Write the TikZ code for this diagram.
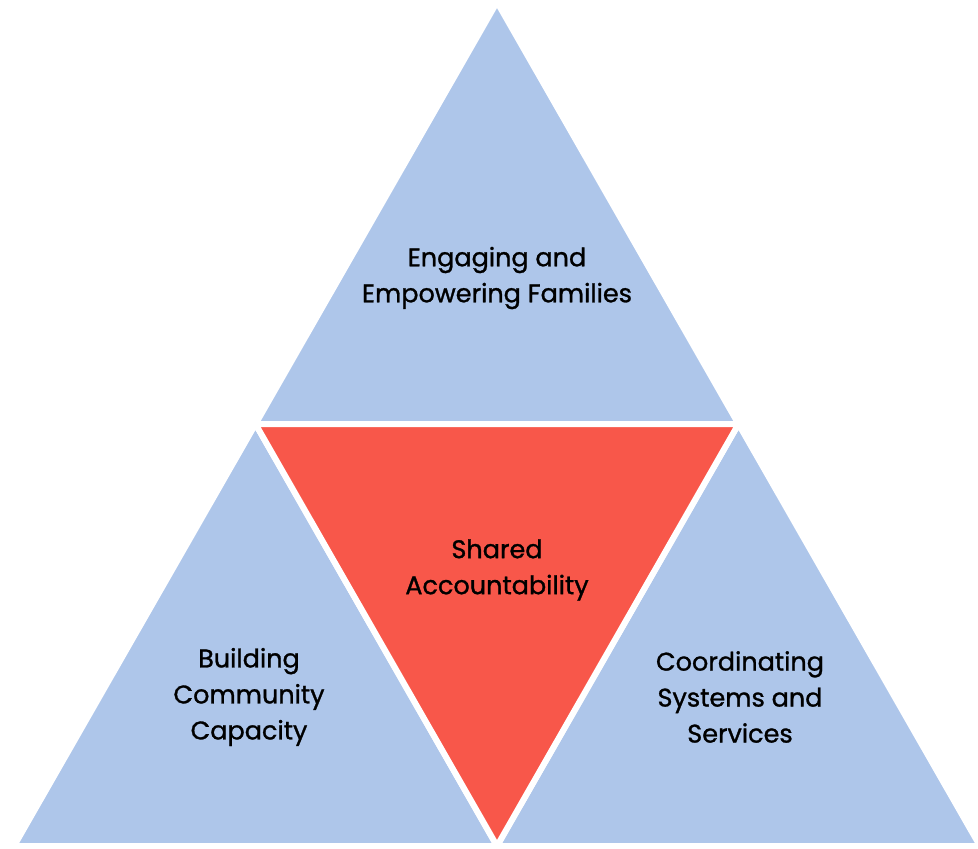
\documentclass[tikz,border=0pt]{standalone}
\usepackage{fontspec}
\setmainfont{Poppins}
\newfontfamily\labelfont{Poppins}[FakeBold=1.1]
\usetikzlibrary{calc}
\definecolor{sideblue}{HTML}{AEC6EA}
\definecolor{corered}{HTML}{F8574A}
\tikzset{
  part/.style={draw=white, line width=6pt, line join=miter},
  label/.style={align=center, font=\labelfont\fontsize{25.5}{36}\selectfont, text=black}
}
\begin{document}
\begin{tikzpicture}[x=1pt, y=-1pt]
\useasboundingbox (0,0) rectangle (978,849);
\coordinate (top) at (497,2);
\coordinate (bl) at (14,846);
\coordinate (br) at (980,846);
\coordinate (ml) at ($(top)!0.5!(bl)$);
\coordinate (mr) at ($(top)!0.5!(br)$);
\coordinate (mb) at ($(bl)!0.5!(br)$);

\fill[sideblue, part] (top)--(ml)--(mr)--cycle;
\fill[sideblue, part] (ml)--(bl)--(mb)--cycle;
\fill[sideblue, part] (mr)--(mb)--(br)--cycle;
\fill[corered, part] (ml)--(mr)--(mb)--cycle;

\node[label] (fam) at (497,278) {Engaging and\\Empowering Families};
\node[label] (acc) at (497,570) {Shared\\Accountability};
\node[label] (com) at (249,697) {Building\\Community\\Capacity};
\node[label] (sys) at (740,697) {Coordinating\\Systems and\\Services};
\end{tikzpicture}
\end{document}
